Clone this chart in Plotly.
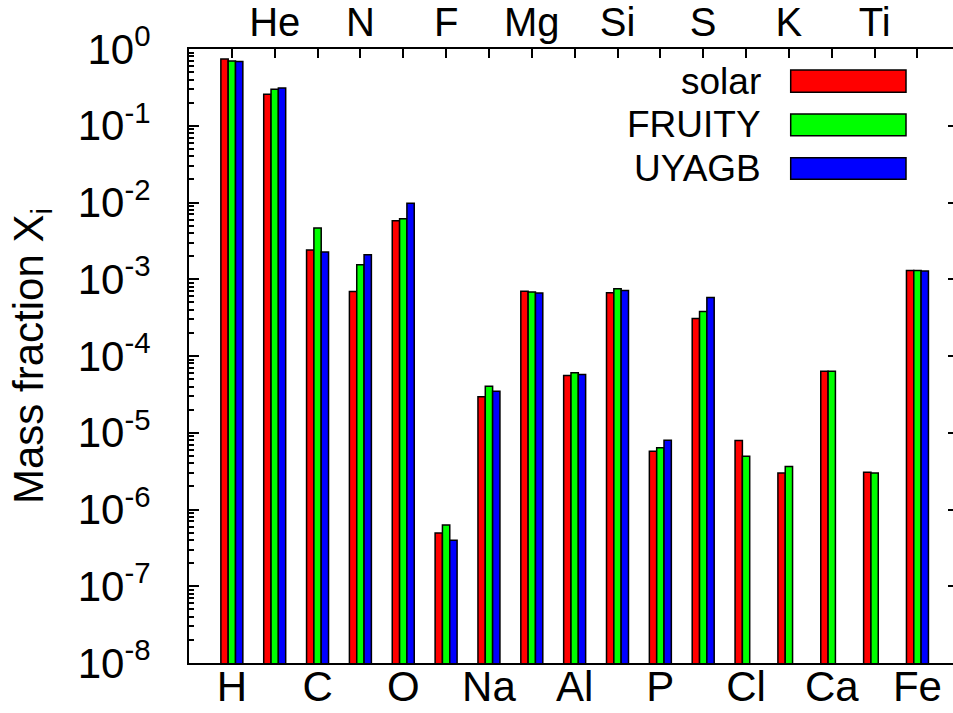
import plotly.graph_objects as go

elements = ["H", "He", "C", "N", "O", "F", "Na", "Mg", "Al", "Si", "P", "S", "Cl", "K", "Ca", "Ti", "Fe"]
solar = [0.74, 0.257, 2.4e-3, 6.9e-4, 5.8e-3, 4.95e-7, 2.94e-5, 7.0e-4, 5.57e-5, 6.67e-4,
         5.75e-6, 3.08e-4, 7.9e-6, 3.0e-6, 6.35e-5, 3.06e-6, 1.30e-3]
fruity = [0.70, 0.298, 4.65e-3, 1.55e-3, 6.15e-3, 6.3e-7, 4.05e-5, 6.8e-4, 6.04e-5, 7.52e-4,
          6.4e-6, 3.8e-4, 4.95e-6, 3.63e-6, 6.35e-5, 3.0e-6, 1.30e-3]
uyagb = [0.685, 0.311, 2.26e-3, 2.09e-3, 9.75e-3, 3.98e-7, 3.48e-5, 6.6e-4, 5.74e-5, 7.15e-4,
         8.0e-6, 5.79e-4, None, None, None, None, 1.28e-3]
series_names = ["solar", "FRUITY", "UYAGB"]
series_colors = ["#ff0000", "#00ff00", "#0000ff"]
ytick_vals = [1e-8, 1e-7, 1e-6, 1e-5, 1e-4, 1e-3, 1e-2, 1e-1, 1e0]
ytick_text = ["10<sup>-8</sup>", "10<sup>-7</sup>", "10<sup>-6</sup>", "10<sup>-5</sup>",
              "10<sup>-4</sup>", "10<sup>-3</sup>", "10<sup>-2</sup>", "10<sup>-1</sup>", "10<sup>0</sup>"]

idx = list(range(len(elements)))
bottom_vals = idx[0::2]
bottom_text = elements[0::2]
top_vals = idx
top_text = [e if i % 2 == 1 else "" for i, e in enumerate(elements)]

W, H = 953, 713
L, R, T, B = 189, 0, 49, 50
PW, PH = W - L - R, H - T - B
FONT = "Liberation Sans, Arial, Helvetica, sans-serif"

fig = go.Figure()
for name, vals, col in zip(series_names, [solar, fruity, uyagb], series_colors):
    fig.add_trace(go.Bar(x=idx, y=vals, name=name, marker=dict(color=col, line=dict(color="black", width=1.5)),
                         showlegend=False))
# dummy trace to activate secondary axes
fig.add_trace(go.Scatter(x=[None], y=[None], xaxis="x2", yaxis="y2", showlegend=False, hoverinfo="skip"))

xr = [-1, -1 + PW / 42.85]
fig.update_layout(
    width=W, height=H, margin=dict(l=L, r=R, t=T, b=B, autoexpand=False),
    paper_bgcolor="white", plot_bgcolor="white",
    barmode="group", bargap=0.487, bargroupgap=0,
    font=dict(family=FONT, size=42, color="black"),
    xaxis=dict(range=xr, tickmode="array", tickvals=bottom_vals, ticktext=bottom_text, automargin=False,
               showline=True, linecolor="black", linewidth=2, ticks="", showgrid=False, zeroline=False,
               tickfont=dict(size=42), ticklabelstandoff=-14),
    xaxis2=dict(range=xr, overlaying="x", side="top", anchor="y", tickmode="array", tickvals=top_vals,
                ticktext=top_text, showline=True, linecolor="black", linewidth=2, ticks="inside",
                ticklen=9, tickwidth=1.5, tickcolor="black", showgrid=False, zeroline=False,
                tickfont=dict(size=40), ticklabelstandoff=-5, automargin=False),
    yaxis=dict(type="log", range=[-8, 0], tickmode="array", tickvals=ytick_vals, ticktext=ytick_text,
               showline=True, linecolor="black", linewidth=2, ticks="inside", ticklen=10, tickwidth=1.5,
               tickcolor="black", showgrid=False, zeroline=False, tickfont=dict(size=42),
               ticklabelstandoff=28, automargin=False,
               minor=dict(ticks="inside", ticklen=5, tickwidth=1.5, tickcolor="black", dtick="D1", showgrid=False)),
    yaxis2=dict(type="log", range=[-8, 0], overlaying="y", side="right", anchor="x2", tickmode="array",
                tickvals=ytick_vals, showticklabels=False, showline=False, ticks="inside", ticklen=5,
                tickwidth=1.5, tickcolor="black", showgrid=False, zeroline=False, automargin=False),
)

# y-axis title
fig.add_annotation(text="Mass fraction X<sub>i</sub>", xref="paper", yref="paper",
                   x=(31 - L) / PW, y=0.5, xanchor="center", yanchor="middle", textangle=-90,
                   showarrow=False, font=dict(size=42, family=FONT))

# manual legend (text right of boxes)
def px_x(p):
    return (p - L) / PW

def px_y(p):
    return (H - B - p) / PH

box_x0, box_x1 = 790.7, 906
box_rows = [(70, 92.3), (114, 135.7), (157.7, 179.3)]
for name, col, (y0, y1) in zip(series_names, series_colors, box_rows):
    fig.add_shape(type="rect", xref="paper", yref="paper", x0=px_x(box_x0), x1=px_x(box_x1),
                  y0=px_y(y1), y1=px_y(y0), fillcolor=col, line=dict(color="black", width=1.5))
    fig.add_annotation(text=name, xref="paper", yref="paper", x=px_x(763), y=px_y((y0 + y1) / 2),
                       xanchor="right", yanchor="middle", showarrow=False, font=dict(size=37, family=FONT))

fig.write_html("out.html")
